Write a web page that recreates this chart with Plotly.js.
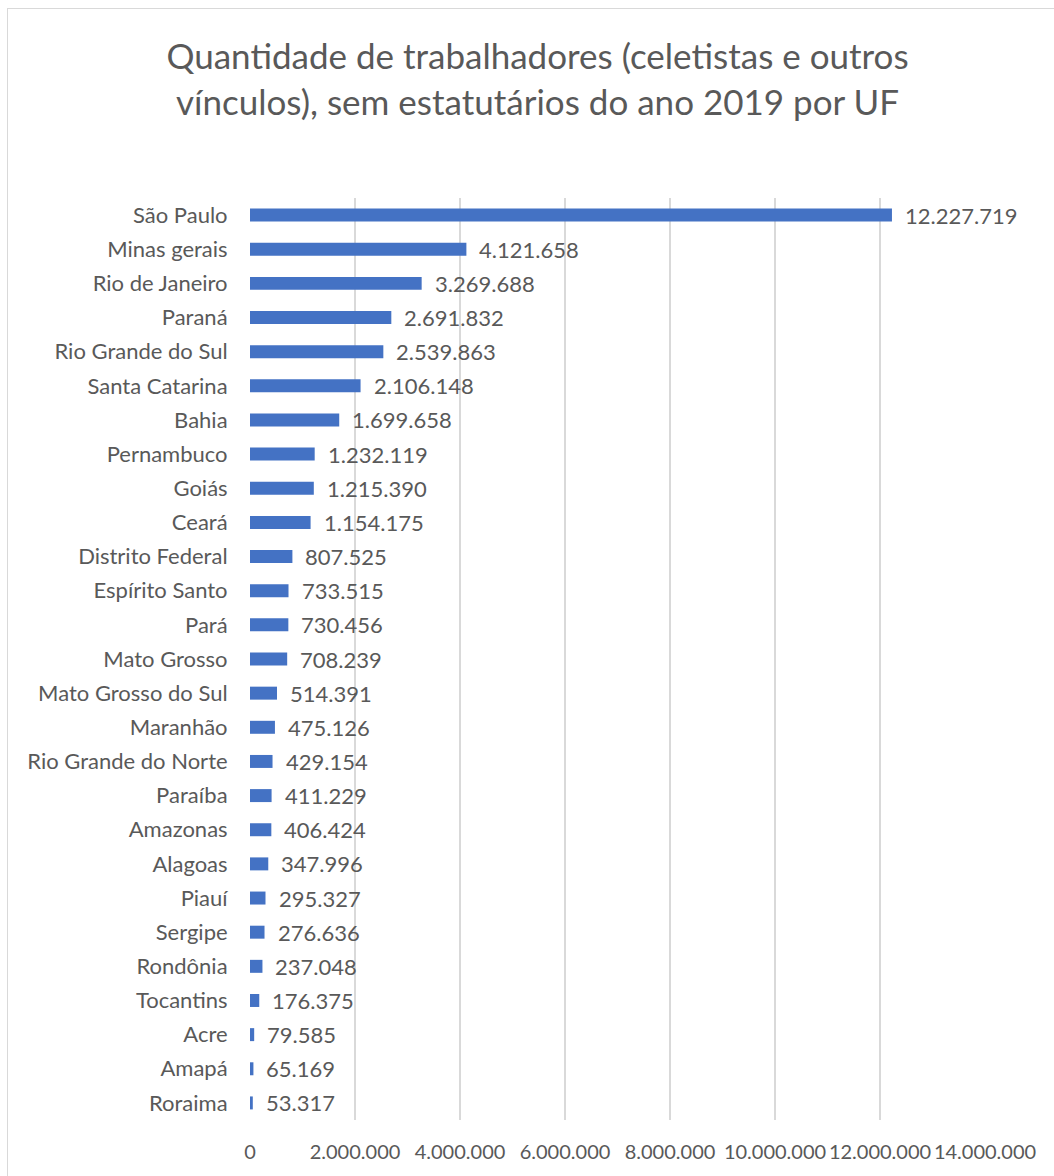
<!DOCTYPE html>
<html>
<head>
<meta charset="utf-8">
<script src="https://cdn.plot.ly/plotly-3.0.1.min.js"></script>
<style>
html,body{margin:0;padding:0;background:#fff;}
#chart{width:1054px;height:1176px;position:relative;}
#frame{position:absolute;left:7px;top:8px;width:1100px;height:1300px;border:1px solid #d9d9d9;pointer-events:none;}
</style>
</head>
<body>
<div id="chart"></div>
<div id="frame"></div>
<script>
const states = ["São Paulo","Minas gerais","Rio de Janeiro","Paraná","Rio Grande do Sul","Santa Catarina","Bahia","Pernambuco","Goiás","Ceará","Distrito Federal","Espírito Santo","Pará","Mato Grosso","Mato Grosso do Sul","Maranhão","Rio Grande do Norte","Paraíba","Amazonas","Alagoas","Piauí","Sergipe","Rondônia","Tocantins","Acre","Amapá","Roraima"];
const workers = [12227719,4121658,3269688,2691832,2539863,2106148,1699658,1232119,1215390,1154175,807525,733515,730456,708239,514391,475126,429154,411229,406424,347996,295327,276636,237048,176375,79585,65169,53317];
const xTicks = [0,2000000,4000000,6000000,8000000,10000000,12000000,14000000];
const titleText = "Quantidade de trabalhadores (celetistas e outros<br>vínculos), sem estatutários do ano 2019 por UF";

const font = "Lato, Liberation Sans, sans-serif";
const gray = "#595959";

function fmt(v){ return v.toString().replace(/\B(?=(\d{3})+(?!\d))/g, "."); }

const annotations = states.map((s,i)=>({
  x: workers[i], y: s, xref:'x', yref:'y', text: fmt(workers[i]),
  showarrow:false, xanchor:'left', yanchor:'middle', xshift:11,
  font:{family:font,size:22,color:gray}
}));

const data = [{
  type:'bar', orientation:'h', x: workers, y: states,
  marker:{color:'#4472c4'}, width:0.38, hoverinfo:'x+y'
}];

const layout = {
  width:1054, height:1176,
  paper_bgcolor:'#fff', plot_bgcolor:'#fff',
  separators:',.',
  margin:{l:250,r:69,t:198,b:56},
  title:{text:titleText, x:0.51, xanchor:'center', yref:'container', y:1-69/1176, yanchor:'middle',
    font:{family:font,size:35,color:gray}},
  showlegend:false,
  xaxis:{range:[0,14000000], tickvals:xTicks, ticktext:xTicks.map(fmt),
    showgrid:true, gridcolor:'#d9d9d9', gridwidth:2, zeroline:false,
    showline:false, ticks:'outside', ticklen:14, tickcolor:'rgba(0,0,0,0)',
    tickfont:{family:font,size:20,color:gray}, fixedrange:true},
  yaxis:{categoryorder:'array', categoryarray:states, autorange:'reversed',
    showgrid:false, zeroline:false, showline:false,
    ticks:'outside', ticklen:17, tickcolor:'rgba(0,0,0,0)',
    tickfont:{family:font,size:22,color:gray}, fixedrange:true},
  annotations: annotations
};

Plotly.newPlot('chart', data, layout, {displayModeBar:false, staticPlot:true});
</script>
</body>
</html>
